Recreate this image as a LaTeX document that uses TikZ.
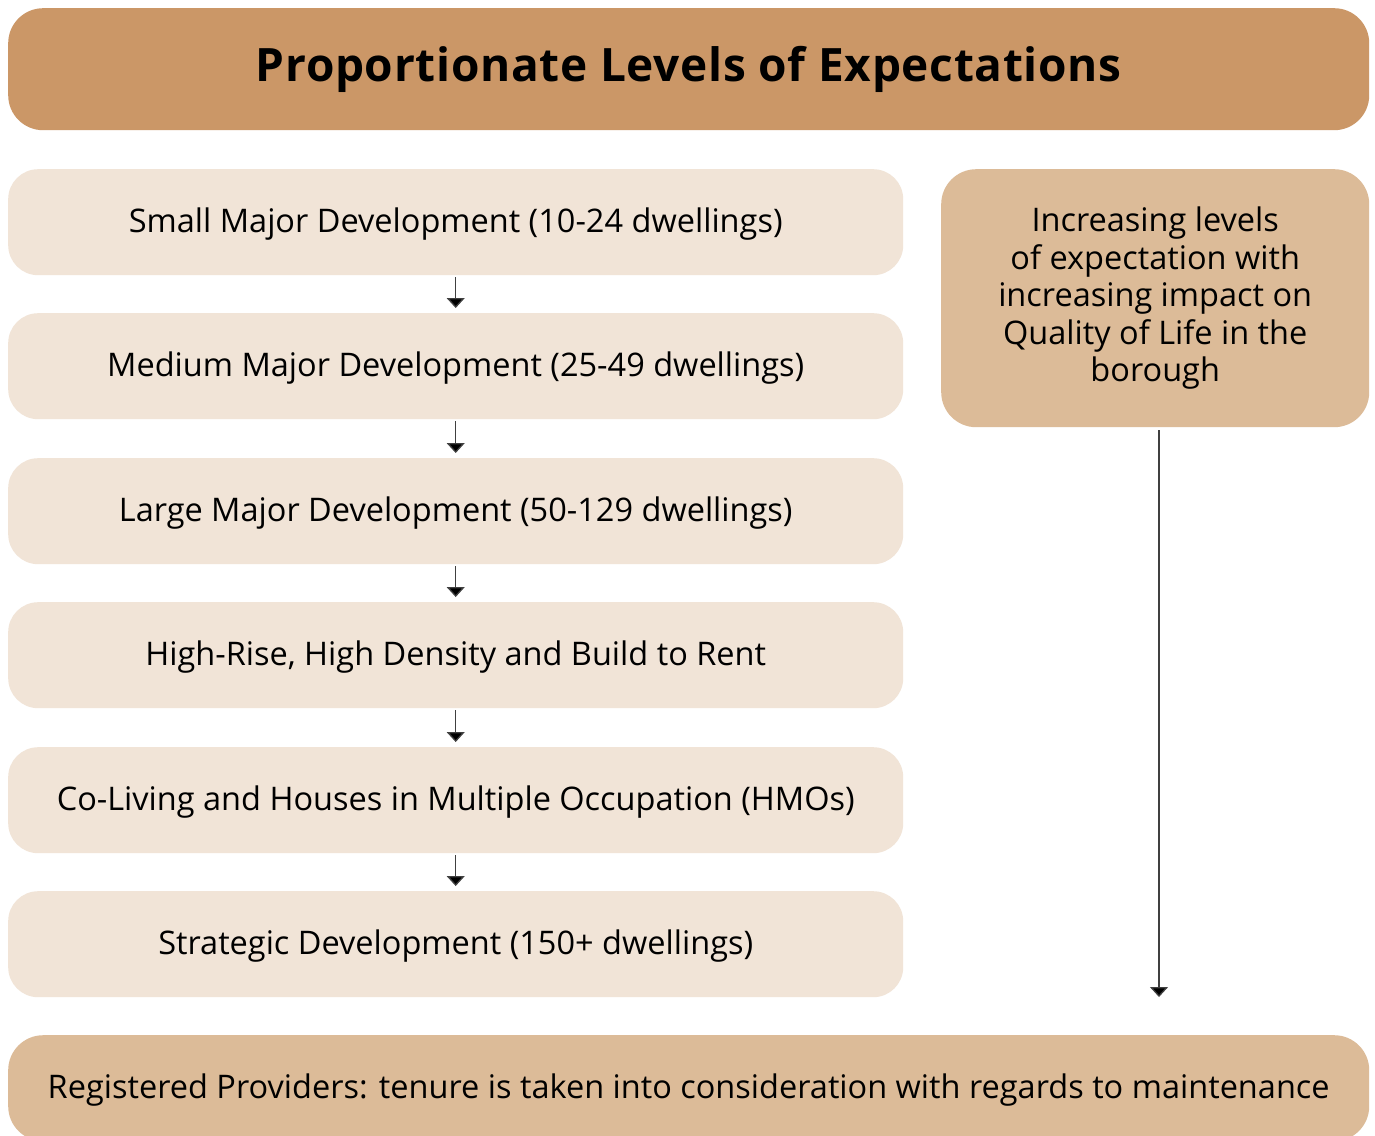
\documentclass[tikz,border=0pt]{standalone}
\usepackage{fontspec}
\setmainfont{Open Sans}
\usetikzlibrary{arrows.meta}
\definecolor{titlec}{HTML}{CB9767}
\definecolor{lightc}{HTML}{F1E4D7}
\definecolor{midc}{HTML}{DCBB98}
\tikzset{
  levelbox/.style={fill=lightc, rounded corners=30pt, minimum width=895pt, minimum height=106pt, inner sep=0pt, font=\fontsize{32.5}{37.5}\selectfont, text height=23pt, text depth=2pt, anchor=north west},
  flowarrow/.style={draw=black!75, line width=1.3pt, -{Triangle[width=18pt,length=10pt,fill=black]}},
}
\begin{document}
\begin{tikzpicture}[x=1pt,y=-1pt]
\clip (0,0) rectangle (1375,1135);
\useasboundingbox (0,0) rectangle (1375,1135);
\fill[white] (0,0) rectangle (1375,1135);
\node[fill=titlec, rounded corners=35pt, minimum width=1361pt, minimum height=122pt, inner sep=0pt, anchor=north west, font=\fontsize{46}{52}\selectfont\bfseries\addfontfeatures{LetterSpace=1.5}] (title) at (8,8) {Proportionate Levels of Expectations};
\node[levelbox] (b1) at (8,169) {Small Major Development (10-24 dwellings)};
\node[levelbox] (b2) at (8,313) {Medium Major Development (25-49 dwellings)};
\node[levelbox] (b3) at (8,458) {Large Major Development (50-129 dwellings)};
\node[levelbox] (b4) at (8,602) {High-Rise, High Density and Build to Rent};
\node[levelbox] (b5) at (8,747) {Co-Living and Houses in Multiple Occupation (HMOs)};
\node[levelbox] (b6) at (8,891) {Strategic Development (150+ dwellings)};
\node[fill=midc, rounded corners=35pt, minimum width=428pt, minimum height=258pt, inner sep=0pt, anchor=north west, align=center, font=\fontsize{32.5}{37.5}\selectfont] (side) at (941,169) {Increasing levels\\of expectation with\\increasing impact on\\Quality of Life in the\\borough};
\node[levelbox, fill=midc, rounded corners=35pt, minimum width=1361pt] (rp) at (8,1035) {Registered Providers: tenure is taken into consideration with regards to maintenance};
\coordinate (sideend) at (1159,997);
\foreach \a/\b in {b1/b2,b2/b3,b3/b4,b4/b5,b5/b6}{
  \draw[flowarrow] ([yshift=-2pt]\a.south) -- ([yshift=5pt]\b.north);
}
\draw[flowarrow] (1159,430) -- (sideend);
\end{tikzpicture}
\end{document}
